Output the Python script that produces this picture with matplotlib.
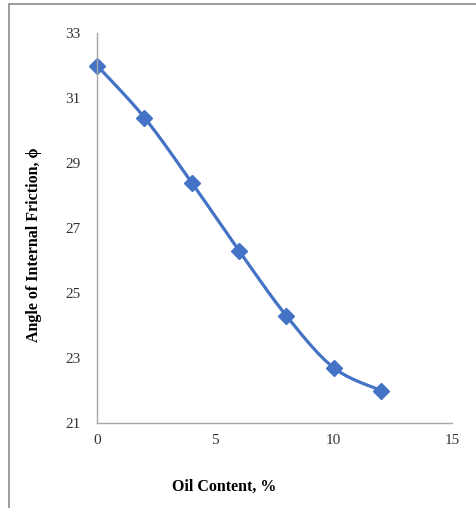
import matplotlib
matplotlib.use('Agg')
import matplotlib.pyplot as plt
import numpy as np
from matplotlib.patches import Rectangle

plt.rcParams['font.family'] = ['Liberation Serif', 'DejaVu Serif']

oil_content = [0, 2, 4, 6, 8, 10, 12]
friction_angle = [32.0, 30.4, 28.4, 26.3, 24.3, 22.7, 22.0]
x_ticks = [0, 5, 10, 15]
y_ticks = [21, 23, 25, 27, 29, 31, 33]


def smooth(x, y, n=30):
    # Catmull-Rom style curve like Excel's smoothed line
    x = np.asarray(x, float)
    y = np.asarray(y, float)
    px = np.concatenate([[x[0]], x, [x[-1]]])
    py = np.concatenate([[y[0]], y, [y[-1]]])
    xs, ys = [], []
    t = np.linspace(0, 1, n)
    for i in range(1, len(px) - 2):
        p0, p1, p2, p3 = [np.array([px[k], py[k]]) for k in (i - 1, i, i + 1, i + 2)]
        c1 = p1 + (p2 - p0) / 6
        c2 = p2 - (p3 - p1) / 6
        b = ((1 - t) ** 3)[:, None] * p1 + (3 * (1 - t) ** 2 * t)[:, None] * c1 \
            + (3 * (1 - t) * t ** 2)[:, None] * c2 + (t ** 3)[:, None] * p2
        xs.extend(b[:, 0])
        ys.extend(b[:, 1])
    return xs, ys


W, H = 477, 508
fig = plt.figure(figsize=(W / 100, H / 100), dpi=100)
ax = fig.add_axes([97 / W, 1 - 423 / H, (452 - 97) / W, (423 - 33) / H])

sx, sy = smooth(oil_content, friction_angle)
blue = '#4472C4'
ax.plot(sx, sy, color=blue, lw=2.3, solid_capstyle='round', clip_on=False)
ax.plot(oil_content, friction_angle, linestyle='none', marker='D', color=blue,
        markersize=8.5, clip_on=False)

ax.set_xlim(0, 15)
ax.set_ylim(21, 33)
ax.set_xticks(x_ticks)
ax.set_yticks(y_ticks)
ax.tick_params(length=0, labelsize=11, colors='#333333', pad=8)
ax.tick_params(axis='y', pad=12)
for s in ['top', 'right']:
    ax.spines[s].set_visible(False)
for s in ['left', 'bottom']:
    ax.spines[s].set_color('#a6a6a6')
    ax.spines[s].set_linewidth(1.0)

fig.text(224 / W, 1 - 487 / H, 'Oil Content, %', ha='center', va='center',
         fontsize=11.5, fontweight='bold')
fig.text(34 / W, 1 - 245 / H, 'Angle of Internal Friction, ϕ', ha='center', va='center',
         rotation=90, fontsize=11.5, fontweight='bold')

fig.patches.append(Rectangle((9.5 / W, -0.1), 1.2, 1 - 4.5 / H + 0.1, transform=fig.transFigure,
                             fill=False, edgecolor='#8c8c8c', lw=1.2))

fig.savefig('out.png', dpi=100)
